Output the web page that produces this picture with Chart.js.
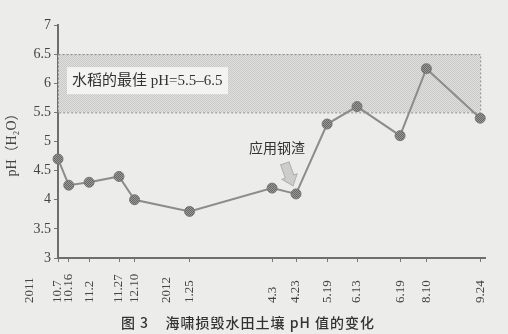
<!DOCTYPE html>
<html>
<head>
<meta charset="utf-8">
<script src="https://cdn.jsdelivr.net/npm/chart.js@4"></script>
<style>
  body { margin: 0; background: #ececea; }
  #wrap { position: relative; width: 508px; height: 334px; }
  #caption {
    position: absolute; left: 0; width: 496px; top: 312px;
    text-align: center; font: 500 14px "Noto Sans CJK SC", sans-serif;
    color: #333; letter-spacing: 1px; white-space: pre;
  }
</style>
</head>
<body>
<div id="wrap">
  <canvas id="chart"></canvas>
  <div id="caption">图 3    海啸损毁水田土壤 pH 值的变化</div>
</div>
<script>
// sampling dates (position on the time axis) and the labels printed under them
const dates = ['2011-10-07', '2011-10-16', '2011-11-02', '2011-11-27', '2011-12-10', '2012-01-25',
  '2012-04-03', '2012-04-23', '2012-05-19', '2012-06-13', '2012-07-19', '2012-08-10', '2012-09-24'];
const dateLabels = ['10.7', '10.16', '11.2', '11.27', '12.10', '1.25',
  '4.3', '4.23', '5.19', '6.13', '6.19', '8.10', '9.24'];
const phValues = [4.7, 4.25, 4.3, 4.4, 4.0, 3.8, 4.2, 4.1, 5.3, 5.6, 5.1, 6.25, 5.4];
const yearLabels = ['2011', '2012'];
const yearDates = ['2011-09-13', '2012-01-06'];
const bestRange = [5.5, 6.5];
const yTicks = [3, 3.5, 4, 4.5, 5, 5.5, 6, 6.5, 7];

const dayOf = d => (Date.parse(d) - Date.parse(dates[0])) / 86400000;
const days = dates.map(dayOf);

// fine dotted screen, like the printed tint
function makePattern(base, dot) {
  const c = document.createElement('canvas');
  c.width = 2; c.height = 2;
  const g = c.getContext('2d');
  g.fillStyle = base; g.fillRect(0, 0, 2, 2);
  g.fillStyle = dot;
  g.fillRect(0, 0, 1, 1);
  g.fillRect(1, 1, 1, 1);
  return g.createPattern(c, 'repeat');
}
const ctx0 = document.getElementById('chart').getContext('2d');
const bandFill = makePattern('#dfdfdd', '#cacac8');
const markFill = makePattern('#999999', '#666666');
const arrowFill = makePattern('#dcdcda', '#bdbdbb');

const serif = '"Liberation Serif", "Noto Sans CJK SC", serif';

const bandPlugin = {
  id: 'band',
  beforeDatasetsDraw(chart) {
    const { ctx, scales: { x, y } } = chart;
    const x0 = x.getPixelForValue(days[0]);
    const x1 = x.getPixelForValue(days[days.length - 1]);
    const y0 = y.getPixelForValue(bestRange[1]);
    const y1 = y.getPixelForValue(bestRange[0]);
    ctx.save();
    ctx.fillStyle = bandFill;
    ctx.fillRect(x0, y0, x1 - x0, y1 - y0);
    ctx.strokeStyle = '#8a8a8a';
    ctx.lineWidth = 1;
    ctx.setLineDash([2, 2]);
    ctx.strokeRect(x0 + 0.5, y0 + 0.5, x1 - x0, y1 - y0);
    ctx.setLineDash([]);
    // label box
    ctx.fillStyle = '#f3f3f1';
    ctx.fillRect(x0 + 9, y0 + 13, 161, 27);
    ctx.fillStyle = '#333';
    ctx.font = '15px ' + serif;
    ctx.textBaseline = 'middle';
    ctx.fillText('水稻的最佳 pH=5.5–6.5', x0 + 14, y0 + 27);
    ctx.restore();
  },
  afterDatasetsDraw(chart) {
    const { ctx, scales: { x, y } } = chart;
    const px = x.getPixelForValue(days[7]);
    const py = y.getPixelForValue(phValues[7]);
    ctx.save();
    ctx.fillStyle = '#333';
    ctx.font = '14px ' + serif;
    ctx.textAlign = 'center';
    ctx.textBaseline = 'middle';
    ctx.fillText('应用钢渣', px - 19, py - 45);
    // fat arrow pointing at the slag point
    ctx.translate(px - 3, py - 8);
    ctx.rotate(-0.35);
    ctx.beginPath();
    ctx.moveTo(0, 0);
    ctx.lineTo(-8, -10);
    ctx.lineTo(-4.5, -10);
    ctx.lineTo(-4.5, -24);
    ctx.lineTo(4.5, -24);
    ctx.lineTo(4.5, -10);
    ctx.lineTo(8, -10);
    ctx.closePath();
    ctx.fillStyle = arrowFill;
    ctx.fill();
    ctx.strokeStyle = '#b0b0ae';
    ctx.lineWidth = 1;
    ctx.stroke();
    ctx.restore();
  },
  afterDraw(chart) {
    const { ctx, scales: { x } } = chart;
    ctx.save();
    ctx.font = '13px ' + serif;
    ctx.fillStyle = '#444';
    ctx.textAlign = 'left';
    ctx.textBaseline = 'middle';
    const put = (txt, v) => {
      ctx.save();
      ctx.translate(x.getPixelForValue(v), 303);
      ctx.rotate(-Math.PI / 2);
      ctx.fillText(txt, 0, 0);
      ctx.restore();
    };
    dateLabels.forEach((t, i) => put(t, days[i]));
    yearLabels.forEach((t, i) => put(t, dayOf(yearDates[i])));
    ctx.restore();
  }
};

new Chart(ctx0, {
  type: 'line',
  data: {
    datasets: [{
      data: days.map((d, i) => ({ x: d, y: phValues[i] })),
      borderColor: '#8c8c8c',
      borderWidth: 2,
      pointRadius: 5,
      pointBackgroundColor: markFill,
      pointBorderColor: '#777777',
      pointBorderWidth: 1,
      tension: 0,
      clip: false
    }]
  },
  options: {
    responsive: true,
    maintainAspectRatio: false,
    animation: false,
    layout: { padding: { top: 25, right: 23, bottom: 0, left: 0 } },
    plugins: { legend: { display: false }, tooltip: { enabled: false } },
    scales: {
      x: {
        type: 'linear',
        min: 0,
        max: 357,
        afterBuildTicks: s => { s.ticks = days.map(v => ({ value: v })); },
        afterFit: s => { s.height = 76; },
        ticks: { display: false },
        grid: { drawOnChartArea: false, tickLength: 4, color: '#777' },
        border: { color: '#6e6e6e', width: 2 }
      },
      y: {
        min: 3,
        max: 7,
        afterBuildTicks: s => { s.ticks = yTicks.map(v => ({ value: v })); },
        afterFit: s => { s.width = 58; },
        ticks: {
          callback: v => String(v),
          color: '#444',
          padding: 3,
          font: { family: serif, size: 14 }
        },
        grid: { drawOnChartArea: false, tickLength: 4, color: '#777' },
        border: { color: '#6e6e6e', width: 2 },
        title: {
          display: true,
          text: 'pH（H₂O）',
          color: '#444',
          font: { family: serif, size: 14 },
          padding: { top: 4, bottom: 0 }
        }
      }
    }
  },
  plugins: [bandPlugin]
});
</script>
</body>
</html>
